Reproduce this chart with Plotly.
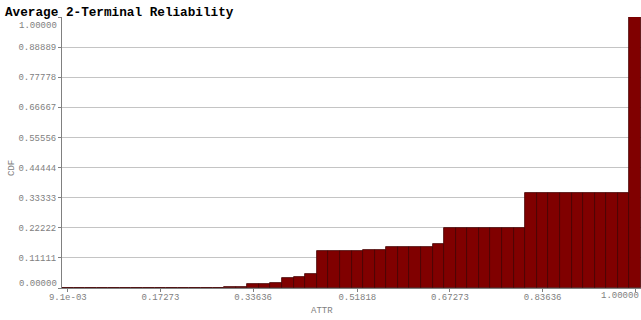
import plotly.graph_objects as go

# Bin index (50 equal-width bins) and CDF height per bin
bins = list(range(50))
cdf = [0, 0, 0, 0, 0, 0, 0, 0, 0, 0,
       0, 0, 0, 0, 0.004, 0.004, 0.015, 0.015, 0.019, 0.038,
       0.041, 0.052, 0.137, 0.137, 0.137, 0.137, 0.141, 0.141, 0.150, 0.150,
       0.150, 0.150, 0.161, 0.222, 0.222, 0.222, 0.222, 0.222, 0.222, 0.222,
       0.349, 0.349, 0.349, 0.349, 0.349, 0.349, 0.349, 0.349, 0.349, 1.0]

x_tick_bins = [0, 8, 16, 25, 33, 41, 49]
x_tick_text = ["9.1e-03", "0.17273", "0.33636", "0.51818", "0.67273", "0.83636",
               "1.00000"]
y_tick_vals = [0, 1/9, 2/9, 3/9, 4/9, 5/9, 6/9, 7/9, 8/9, 1.0]
y_tick_text = ["0.00000", "0.11111", "0.22222", "0.33333", "0.44444",
               "0.55556", "0.66667", "0.77778", "0.88889", "1.00000"]

MONO = "Courier New, Liberation Mono, monospace"
GREY = "#808080"
FIG_W, FIG_H = 641, 320
L, R, T, B = 62, 0, 17, 32
PW, PH = FIG_W - L - R, FIG_H - T - B

def px(xp):
    return (xp - L) / PW

def py(yp):
    return (FIG_H - B - yp) / PH

fig = go.Figure(go.Bar(
    x=bins, y=cdf, width=1.0,
    marker=dict(color="#800000", line=dict(color="#420000", width=0.8)),
))

# edge labels shifted inward (as in the reference) are drawn as annotations
y_text_axis = [t if i not in (0, len(y_tick_text) - 1) else "" for i, t in enumerate(y_tick_text)]
x_text_axis = x_tick_text[:-1] + [""]

annotations = [
    dict(text="ATTR", xref="paper", yref="paper", x=px(322), y=py(311),
         xanchor="center", yanchor="middle", showarrow=False,
         font=dict(family=MONO, size=9, color=GREY)),
    dict(text="CDF", xref="paper", yref="paper", x=px(12), y=py(168), textangle=-90,
         xanchor="center", yanchor="middle", showarrow=False,
         font=dict(family=MONO, size=9, color=GREY)),
    dict(text=y_tick_text[-1], xref="paper", yref="paper", x=px(59), y=py(26),
         xanchor="right", yanchor="middle", showarrow=False,
         font=dict(family=MONO, size=9, color=GREY)),
    dict(text=y_tick_text[0], xref="paper", yref="paper", x=px(59), y=py(284),
         xanchor="right", yanchor="middle", showarrow=False,
         font=dict(family=MONO, size=9, color=GREY)),
    dict(text=x_tick_text[-1], xref="paper", yref="paper", x=px(641), y=py(296),
         xanchor="right", yanchor="middle", showarrow=False,
         font=dict(family=MONO, size=9, color=GREY)),
]

fig.update_layout(
    width=FIG_W, height=FIG_H,
    margin=dict(l=L, r=R, t=T, b=B),
    paper_bgcolor="white", plot_bgcolor="white",
    showlegend=False,
    bargap=0,
    title=dict(text="<b>Average 2-Terminal Reliability</b>",
               font=dict(family=MONO, size=12.7, color="black"),
               x=5/641, xanchor="left", xref="container",
               y=1 - 11.5/320, yanchor="middle", yref="container"),
    xaxis=dict(range=[-0.5, 49.5], tickvals=x_tick_bins, ticktext=x_text_axis,
               showgrid=False, zeroline=False, showline=True, linecolor=GREY,
               linewidth=1, ticks="outside", ticklen=3, tickcolor=GREY,
               ticklabelstandoff=-3,
               tickfont=dict(family=MONO, size=9, color=GREY)),
    yaxis=dict(range=[0, 1], tickvals=y_tick_vals, ticktext=y_text_axis,
               showgrid=True, gridcolor="#c4c4c4", gridwidth=1,
               zeroline=False, showline=True, linecolor=GREY, linewidth=1,
               ticks="outside", ticklen=3, tickcolor=GREY,
               tickfont=dict(family=MONO, size=9, color=GREY)),
    annotations=annotations,
)

fig.write_html("out.html")
